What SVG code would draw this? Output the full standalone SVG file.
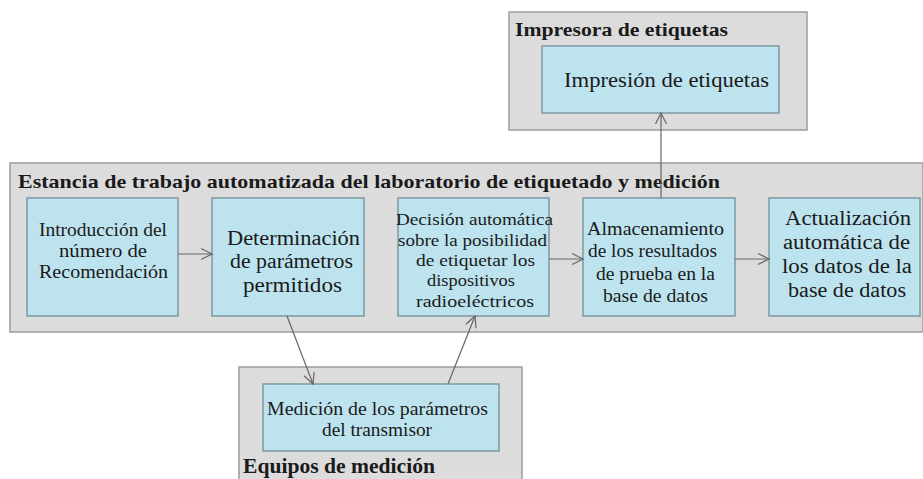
<svg xmlns="http://www.w3.org/2000/svg" width="923" height="479" viewBox="0 0 923 479">
<style>
.grp{fill:#dcdcdc;stroke:#9c9c9c;stroke-width:1.5}
.box{fill:#bde3ee;stroke:#7d98a2;stroke-width:1.5}
.ttl{font-family:'Liberation Serif','Times New Roman',serif;font-weight:bold;fill:#1a1a1a}
.txt{font-family:'Liberation Serif','Times New Roman',serif;fill:#1a1a1a}
.con{stroke:#666;stroke-width:1.2;fill:none}
</style>
<defs>
<marker id="ah" markerUnits="userSpaceOnUse" markerWidth="14" markerHeight="14" viewBox="0 0 14 14" refX="12" refY="7" orient="auto">
<path d="M1,1.5 L12,7 L1,12.5" fill="none" stroke="#666" stroke-width="1.2"/>
</marker>
</defs>
<g id="printer-group">
<rect class="grp" x="509" y="12" width="298" height="118"/>
<text class="ttl" x="515" y="36" font-size="19" textLength="213" lengthAdjust="spacingAndGlyphs">Impresora de etiquetas</text>
</g>
<g id="main-group">
<rect class="grp" x="10" y="163" width="913" height="169"/>
<text class="ttl" x="18" y="188" font-size="19.5" textLength="702" lengthAdjust="spacingAndGlyphs">Estancia de trabajo automatizada del laboratorio de etiquetado y medición</text>
</g>
<g id="measure-group">
<rect class="grp" x="239" y="367" width="283" height="125"/>
<text class="ttl" x="243" y="473" font-size="20" textLength="192" lengthAdjust="spacingAndGlyphs">Equipos de medición</text>
</g>
<g id="n-impresion">
<rect class="box" x="542" y="46" width="237" height="67"/>
<text class="txt" x="564" y="87" font-size="20" textLength="205" lengthAdjust="spacingAndGlyphs">Impresión de etiquetas</text>
</g>
<g id="n-introduccion">
<rect class="box" x="27" y="198" width="151" height="118"/>
<text class="txt" x="39" y="236" font-size="18.5" textLength="128" lengthAdjust="spacingAndGlyphs">Introducción del</text>
<text class="txt" x="59" y="257" font-size="18.5" textLength="88" lengthAdjust="spacingAndGlyphs">número de</text>
<text class="txt" x="39" y="278" font-size="18.5" textLength="129" lengthAdjust="spacingAndGlyphs">Recomendación</text>
</g>
<g id="n-determinacion">
<rect class="box" x="212" y="198" width="152" height="118"/>
<text class="txt" x="227" y="245" font-size="20" textLength="133" lengthAdjust="spacingAndGlyphs">Determinación</text>
<text class="txt" x="230" y="268" font-size="20" textLength="123" lengthAdjust="spacingAndGlyphs">de parámetros</text>
<text class="txt" x="243" y="292" font-size="20" textLength="99" lengthAdjust="spacingAndGlyphs">permitidos</text>
</g>
<g id="n-decision">
<rect class="box" x="398" y="198" width="151" height="118"/>
<text class="txt" x="396" y="225" font-size="17.5" textLength="157" lengthAdjust="spacingAndGlyphs">Decisión automática</text>
<text class="txt" x="398" y="246" font-size="17.5" textLength="149" lengthAdjust="spacingAndGlyphs">sobre la posibilidad</text>
<text class="txt" x="416" y="266" font-size="17.5" textLength="119" lengthAdjust="spacingAndGlyphs">de etiquetar los</text>
<text class="txt" x="427" y="286" font-size="17.5" textLength="88" lengthAdjust="spacingAndGlyphs">dispositivos</text>
<text class="txt" x="416" y="307" font-size="17.5" textLength="118" lengthAdjust="spacingAndGlyphs">radioeléctricos</text>
</g>
<g id="n-almacenamiento">
<rect class="box" x="583" y="198" width="152" height="118"/>
<text class="txt" x="587" y="235" font-size="18" textLength="137" lengthAdjust="spacingAndGlyphs">Almacenamiento</text>
<text class="txt" x="588" y="257" font-size="18" textLength="129" lengthAdjust="spacingAndGlyphs">de los resultados</text>
<text class="txt" x="596" y="280" font-size="18" textLength="119" lengthAdjust="spacingAndGlyphs">de prueba en la</text>
<text class="txt" x="603" y="302" font-size="18" textLength="105" lengthAdjust="spacingAndGlyphs">base de datos</text>
</g>
<g id="n-actualizacion">
<rect class="box" x="769" y="198" width="151" height="118"/>
<text class="txt" x="785" y="225" font-size="20" textLength="126" lengthAdjust="spacingAndGlyphs">Actualización</text>
<text class="txt" x="783" y="249" font-size="20" textLength="127" lengthAdjust="spacingAndGlyphs">automática de</text>
<text class="txt" x="782" y="273" font-size="20" textLength="130" lengthAdjust="spacingAndGlyphs">los datos de la</text>
<text class="txt" x="788" y="297" font-size="20" textLength="118" lengthAdjust="spacingAndGlyphs">base de datos</text>
</g>
<g id="n-medicion">
<rect class="box" x="263" y="384" width="236" height="67"/>
<text class="txt" x="267" y="415" font-size="18.5" textLength="221" lengthAdjust="spacingAndGlyphs">Medición de los parámetros</text>
<text class="txt" x="322" y="436" font-size="18.5" textLength="110" lengthAdjust="spacingAndGlyphs">del transmisor</text>
</g>
<g id="connectors">
<line class="con" x1="178" y1="254" x2="212" y2="254" marker-end="url(#ah)"/>
<line class="con" x1="549" y1="259" x2="583" y2="259" marker-end="url(#ah)"/>
<line class="con" x1="735" y1="259" x2="769" y2="259" marker-end="url(#ah)"/>
<line class="con" x1="661" y1="198" x2="661" y2="113" marker-end="url(#ah)"/>
<line class="con" x1="287" y1="316" x2="313" y2="384" marker-end="url(#ah)"/>
<line class="con" x1="448" y1="384" x2="475" y2="316" marker-end="url(#ah)"/>
</g>
</svg>
